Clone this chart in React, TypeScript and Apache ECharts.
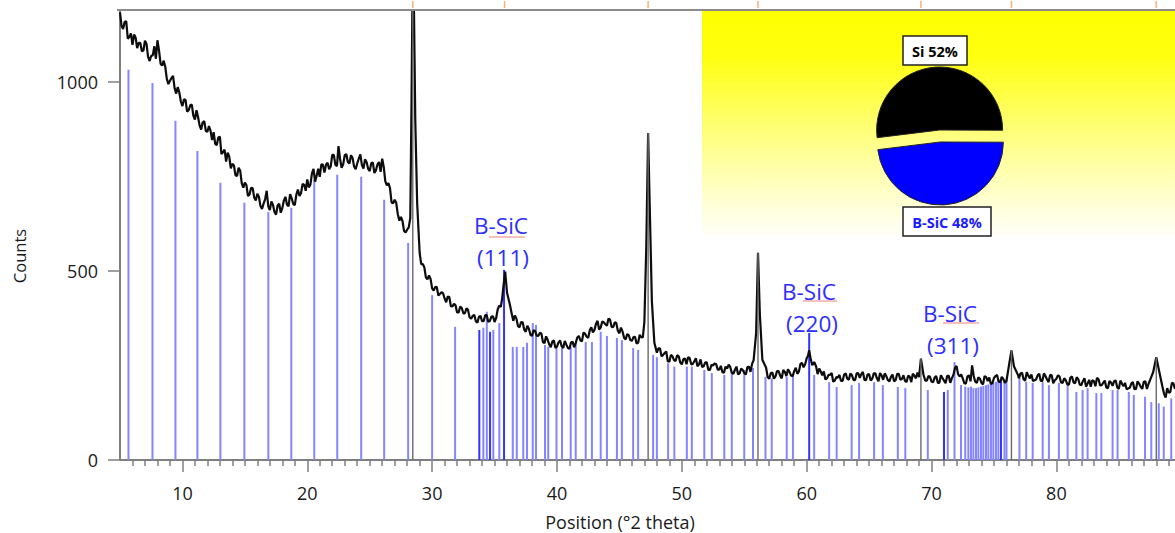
import { useEffect, useRef } from "react";
import * as echarts from "echarts";

// ---- measured diffraction scan: [position (°2θ), counts] ----
const scan5to29 = [
  [5.0, 1184], [5.125, 1148], [5.25, 1140], [5.375, 1159], [5.5, 1160], [5.625, 1114], [5.75, 1119], [5.875, 1128], [6.0, 1098], [6.125, 1125],
  [6.25, 1117], [6.375, 1089], [6.5, 1103], [6.625, 1103], [6.75, 1081], [6.875, 1083], [7.0, 1109], [7.125, 1100], [7.25, 1066], [7.375, 1055],
  [7.5, 1069], [7.625, 1070], [7.75, 1094], [7.875, 1061], [8.0, 1110], [8.125, 1083], [8.25, 1048], [8.375, 1043], [8.5, 1056], [8.625, 1040],
  [8.75, 1008], [8.875, 994], [9.0, 1003], [9.125, 1010], [9.25, 1016], [9.375, 983], [9.5, 969], [9.625, 986], [9.75, 972], [9.875, 948],
  [10.0, 936], [10.125, 954], [10.25, 952], [10.375, 921], [10.5, 925], [10.625, 938], [10.75, 940], [10.875, 911], [11.0, 900], [11.125, 925],
  [11.25, 907], [11.375, 885], [11.5, 874], [11.625, 893], [11.75, 896], [11.875, 870], [12.0, 868], [12.125, 883], [12.25, 871], [12.375, 846],
  [12.5, 867], [12.625, 836], [12.75, 833], [12.875, 853], [13.0, 855], [13.125, 809], [13.25, 814], [13.375, 821], [13.5, 789], [13.625, 813],
  [13.75, 802], [13.875, 771], [14.0, 783], [14.125, 779], [14.25, 753], [14.375, 751], [14.5, 773], [14.625, 765], [14.75, 732], [14.875, 720],
  [15.0, 734], [15.125, 727], [15.25, 698], [15.375, 702], [15.5, 720], [15.625, 719], [15.75, 694], [15.875, 686], [16.0, 704], [16.125, 696],
  [16.25, 672], [16.375, 664], [16.5, 678], [16.625, 690], [16.75, 712], [16.875, 671], [17.0, 661], [17.125, 684], [17.25, 675], [17.375, 656],
  [17.5, 649], [17.625, 673], [17.75, 678], [17.875, 654], [18.0, 666], [18.125, 686], [18.25, 696], [18.375, 675], [18.5, 671], [18.625, 703],
  [18.75, 692], [18.875, 677], [19.0, 674], [19.125, 702], [19.25, 715], [19.375, 698], [19.5, 706], [19.625, 730], [19.75, 728], [19.875, 712],
  [20.0, 742], [20.125, 721], [20.25, 728], [20.375, 758], [20.5, 770], [20.625, 736], [20.75, 752], [20.875, 770], [21.0, 749], [21.125, 782],
  [21.25, 781], [21.375, 760], [21.5, 781], [21.625, 786], [21.75, 769], [21.875, 776], [22.0, 807], [22.125, 807], [22.25, 781], [22.375, 777],
  [22.5, 830], [22.625, 796], [22.75, 773], [22.875, 782], [23.0, 806], [23.125, 809], [23.25, 788], [23.375, 784], [23.5, 806], [23.625, 799],
  [23.75, 776], [23.875, 769], [24.0, 784], [24.125, 797], [24.25, 808], [24.375, 780], [24.5, 771], [24.625, 795], [24.75, 788], [24.875, 770],
  [25.0, 764], [25.125, 785], [25.25, 787], [25.375, 759], [25.5, 766], [25.625, 782], [25.75, 788], [25.875, 762], [26.0, 797], [26.125, 775],
  [26.25, 737], [26.375, 726], [26.5, 732], [26.625, 719], [26.75, 681], [26.875, 679], [27.0, 688], [27.125, 680], [27.25, 650], [27.375, 633],
  [27.5, 643], [27.625, 632], [27.75, 606], [27.875, 602], [28.0, 609], [28.125, 615], [28.25, 640], [28.35, 950], [28.45, 1320], [28.55, 1180],
  [28.65, 900], [28.8, 680], [29.0, 548],
];
const scan29to48 = [
  [29.125, 518], [29.25, 518], [29.375, 510], [29.5, 483], [29.625, 478], [29.75, 488], [29.875, 479], [30.0, 454], [30.125, 448], [30.25, 458],
  [30.375, 457], [30.5, 435], [30.625, 439], [30.75, 444], [30.875, 441], [31.0, 427], [31.125, 417], [31.25, 432], [31.375, 431], [31.5, 407],
  [31.625, 406], [31.75, 413], [31.875, 409], [32.0, 390], [32.125, 390], [32.25, 406], [32.375, 402], [32.5, 388], [32.625, 388], [32.75, 401],
  [32.875, 397], [33.0, 377], [33.125, 374], [33.25, 381], [33.375, 384], [33.5, 367], [33.625, 363], [33.75, 379], [33.875, 381], [34.0, 367],
  [34.125, 367], [34.25, 383], [34.375, 383], [34.5, 365], [34.625, 368], [34.75, 379], [34.875, 380], [35.0, 365], [35.125, 375], [35.25, 398],
  [35.375, 408], [35.5, 405], [35.6, 425], [35.7, 456], [35.85, 498], [36.0, 442], [36.125, 425], [36.25, 407], [36.375, 387], [36.5, 368],
  [36.625, 382], [36.75, 374], [36.875, 354], [37.0, 351], [37.125, 365], [37.25, 364], [37.375, 345], [37.5, 339], [37.625, 355], [37.75, 347],
  [37.875, 331], [38.0, 328], [38.125, 343], [38.25, 341], [38.375, 329], [38.5, 328], [38.625, 336], [38.75, 335], [38.875, 312], [39.0, 309],
  [39.125, 327], [39.25, 318], [39.375, 306], [39.5, 298], [39.625, 313], [39.75, 316], [39.875, 296], [40.0, 300], [40.125, 311], [40.25, 316],
  [40.375, 301], [40.5, 296], [40.625, 315], [40.75, 305], [40.875, 296], [41.0, 294], [41.125, 311], [41.25, 313], [41.375, 298], [41.5, 309],
  [41.625, 324], [41.75, 328], [41.875, 316], [42.0, 314], [42.125, 337], [42.25, 334], [42.375, 326], [42.5, 323], [42.625, 343], [42.75, 351],
  [42.875, 337], [43.0, 344], [43.125, 360], [43.25, 368], [43.375, 345], [43.5, 350], [43.625, 366], [43.75, 364], [43.875, 359], [44.0, 355],
  [44.125, 374], [44.25, 371], [44.375, 352], [44.5, 351], [44.625, 364], [44.75, 362], [44.875, 342], [45.0, 335], [45.125, 350], [45.25, 340],
  [45.375, 323], [45.5, 319], [45.625, 333], [45.75, 330], [45.875, 317], [46.0, 315], [46.125, 325], [46.25, 326], [46.375, 308], [46.5, 310],
  [46.625, 331], [46.75, 325], [46.875, 324], [47.0, 365], [47.15, 560], [47.3, 865], [47.45, 640], [47.6, 420], [47.8, 310],
];
const scan48to70 = [
  [48.0, 284], [48.125, 295], [48.25, 295], [48.375, 274], [48.5, 278], [48.625, 283], [48.75, 287], [48.875, 261], [49.0, 260], [49.125, 278],
  [49.25, 274], [49.375, 264], [49.5, 262], [49.625, 277], [49.75, 274], [49.875, 258], [50.0, 253], [50.125, 267], [50.25, 268], [50.375, 253],
  [50.5, 272], [50.625, 270], [50.75, 253], [50.875, 254], [51.0, 261], [51.125, 269], [51.25, 248], [51.375, 253], [51.5, 266], [51.625, 246],
  [51.75, 248], [51.875, 258], [52.0, 258], [52.125, 238], [52.25, 238], [52.375, 252], [52.5, 250], [52.625, 255], [52.75, 254], [52.875, 239],
  [53.0, 239], [53.125, 249], [53.25, 232], [53.375, 231], [53.5, 247], [53.625, 242], [53.75, 252], [53.875, 246], [54.0, 231], [54.125, 228],
  [54.25, 238], [54.375, 247], [54.5, 227], [54.625, 229], [54.75, 242], [54.875, 238], [55.0, 230], [55.125, 226], [55.25, 245], [55.375, 247],
  [55.5, 233], [55.625, 254], [55.75, 264], [55.95, 335], [56.1, 548], [56.25, 385], [56.45, 265], [56.75, 244], [56.875, 219], [57.0, 215],
  [57.125, 230], [57.25, 231], [57.375, 215], [57.5, 221], [57.625, 235], [57.75, 235], [57.875, 223], [58.0, 216], [58.125, 238], [58.25, 233],
  [58.375, 222], [58.5, 240], [58.625, 233], [58.75, 223], [58.875, 222], [59.0, 235], [59.125, 244], [59.25, 228], [59.375, 234], [59.5, 254],
  [59.625, 257], [59.75, 245], [59.875, 253], [60.0, 269], [60.1, 275], [60.2, 290], [60.325, 266], [60.45, 251], [60.6, 259], [60.75, 248],
  [60.875, 227], [61.0, 242], [61.125, 234], [61.25, 224], [61.375, 234], [61.5, 213], [61.625, 216], [61.75, 225], [61.875, 225], [62.0, 230],
  [62.125, 207], [62.25, 210], [62.375, 219], [62.5, 218], [62.625, 225], [62.75, 209], [62.875, 209], [63.0, 226], [63.125, 229], [63.25, 215],
  [63.375, 212], [63.5, 229], [63.625, 224], [63.75, 212], [63.875, 211], [64.0, 229], [64.125, 230], [64.25, 217], [64.375, 227], [64.5, 233],
  [64.625, 212], [64.75, 211], [64.875, 226], [65.0, 227], [65.125, 210], [65.25, 215], [65.375, 229], [65.5, 229], [65.625, 216], [65.75, 208],
  [65.875, 230], [66.0, 224], [66.125, 212], [66.25, 229], [66.375, 222], [66.5, 211], [66.625, 208], [66.75, 220], [66.875, 226], [67.0, 208],
  [67.125, 211], [67.25, 228], [67.375, 228], [67.5, 212], [67.625, 214], [67.75, 224], [67.875, 209], [68.0, 206], [68.125, 223], [68.25, 221],
  [68.375, 206], [68.5, 228], [68.625, 223], [68.75, 216], [68.875, 231], [69.0, 219], [69.15, 268], [69.35, 226], [69.5, 210], [69.625, 210],
  [69.75, 222], [69.875, 220], [70.0, 207],
];
const scan70to90 = [
  [70.125, 206], [70.25, 218], [70.375, 222], [70.5, 204], [70.625, 204], [70.75, 224], [70.875, 217], [71.0, 210], [71.125, 203], [71.25, 222],
  [71.375, 223], [71.5, 204], [71.625, 216], [71.75, 225], [71.875, 243], [72.0, 249], [72.125, 227], [72.25, 221], [72.375, 226], [72.5, 216],
  [72.625, 203], [72.75, 202], [72.875, 221], [73.0, 224], [73.125, 208], [73.25, 250], [73.375, 223], [73.5, 207], [73.625, 204], [73.75, 219],
  [73.875, 215], [74.0, 204], [74.125, 200], [74.25, 222], [74.375, 219], [74.5, 209], [74.625, 218], [74.75, 201], [74.875, 203], [75.0, 217],
  [75.125, 222], [75.25, 225], [75.375, 207], [75.5, 206], [75.625, 220], [75.75, 214], [75.875, 204], [76.0, 209], [76.2, 250], [76.4, 290],
  [76.6, 248], [76.85, 230], [76.925, 225], [77.0, 216], [77.125, 229], [77.25, 231], [77.375, 213], [77.5, 210], [77.625, 232], [77.75, 223],
  [77.875, 216], [78.0, 226], [78.125, 209], [78.25, 211], [78.375, 213], [78.5, 224], [78.625, 228], [78.75, 209], [78.875, 209], [79.0, 229],
  [79.125, 222], [79.25, 213], [79.375, 206], [79.5, 225], [79.625, 224], [79.75, 203], [79.875, 211], [80.0, 215], [80.125, 224], [80.25, 221],
  [80.375, 205], [80.5, 204], [80.625, 216], [80.75, 211], [80.875, 200], [81.0, 199], [81.125, 218], [81.25, 221], [81.375, 205], [81.5, 203],
  [81.625, 219], [81.75, 214], [81.875, 199], [82.0, 198], [82.125, 209], [82.25, 216], [82.375, 194], [82.5, 202], [82.625, 212], [82.75, 194],
  [82.875, 211], [83.0, 209], [83.125, 195], [83.25, 217], [83.375, 214], [83.5, 197], [83.625, 198], [83.75, 204], [83.875, 210], [84.0, 192],
  [84.125, 190], [84.25, 209], [84.375, 205], [84.5, 196], [84.625, 209], [84.75, 210], [84.875, 192], [85.0, 188], [85.125, 210], [85.25, 202],
  [85.375, 195], [85.5, 204], [85.625, 187], [85.75, 189], [85.875, 191], [86.0, 202], [86.125, 206], [86.25, 187], [86.375, 188], [86.5, 208],
  [86.625, 202], [86.75, 194], [86.875, 188], [87.0, 207], [87.125, 208], [87.25, 188], [87.375, 201], [87.5, 211], [87.75, 232], [88.0, 272],
  [88.25, 232], [88.5, 193], [88.625, 175], [88.75, 165], [88.875, 190], [89.0, 178], [89.125, 180], [89.25, 204], [89.375, 202], [89.5, 188],
];

// ---- reference pattern sticks: [position, relative height in counts] ----
const refSticksLight = [
  [5.68, 1032], [7.6, 997], [9.44, 897], [11.2, 817], [13.04, 733], [14.96, 680], [16.88, 656], [18.72, 667], [20.56, 741], [22.4, 754],
  [24.32, 749], [26.16, 688], [28.08, 574], [30.0, 436], [31.84, 352], [34.1, 350], [34.38, 392], [34.9, 344], [35.38, 362], [36.46, 299],
  [36.78, 299], [37.3, 299], [37.6, 310], [38.06, 362], [38.32, 357], [39.04, 304], [39.3, 300], [39.96, 300], [40.4, 296], [41.1, 299],
  [41.5, 309], [42.3, 312], [42.8, 312], [43.5, 339], [44.0, 328], [44.8, 323], [45.2, 317], [46.1, 296], [46.5, 291], [47.7, 278],
  [48.0, 272], [48.9, 256], [49.4, 247], [50.4, 247], [50.8, 247], [51.8, 238], [52.4, 230], [53.4, 225], [54.0, 233], [55.0, 238],
  [55.7, 243], [56.7, 220], [57.2, 216], [58.4, 220], [58.9, 225], [60.6, 225], [61.8, 206], [62.4, 193], [63.6, 198], [64.2, 204],
  [65.4, 206], [66.1, 198], [67.3, 193], [67.9, 190], [69.7, 185], [71.3, 185], [71.84, 259], [72.36, 198], [72.7, 194], [72.95, 192],
  [73.16, 194], [73.35, 190], [73.56, 190], [73.75, 192], [73.96, 194], [74.15, 196], [74.36, 198], [74.55, 200], [74.76, 203], [74.95, 205],
  [75.16, 207], [75.35, 209], [75.84, 212], [76.0, 214], [77.04, 216], [77.58, 207], [78.1, 204], [78.9, 206], [79.4, 198], [80.2, 204],
  [80.9, 198], [81.6, 180], [82.1, 185], [82.5, 190], [83.2, 177], [83.6, 177], [84.5, 185], [84.9, 185], [85.8, 180], [86.2, 172],
  [87.1, 167], [87.6, 153], [88.2, 150], [88.6, 141], [89.2, 163],
];
const refSticksDark = [
  [33.78, 344], [34.64, 339], [35.76, 503], [60.2, 336], [71.0, 180], [75.56, 212],
];
const siSticks = [
  [28.45, 1320], [47.3, 865], [56.1, 548], [69.15, 268], [76.4, 290], [88.0, 272],
];
const peakMarkers = [28.45, 35.8, 47.3, 56.1, 69.15, 76.4, 88.0];

// ---- axes ----
const xMajorTicks = [10, 20, 30, 40, 50, 60, 70, 80];
const yTicks = [0, 500, 1000];
const xMin = 5;
const xMax = 89.5;
const yMax = 1190;

// ---- phase composition ----
const phaseNames = ["Si", "B-SiC"];
const phaseShares = [52, 48];
const annotations = [
  { label: "B-SiC", hkl: "(111)" },
  { label: "B-SiC", hkl: "(220)" },
  { label: "B-SiC", hkl: "(311)" },
];

const FONT = '"Open Sans", "Liberation Sans", sans-serif';
const BLUE_TXT = "#2e2eff";

function stickSeries(data: number[][], color: string, width: number, z: number) {
  return {
    type: "custom",
    data,
    z,
    clip: true,
    silent: true,
    encode: { x: 0, y: 1 },
    renderItem: (_p: any, api: any) => {
      const a = api.coord([api.value(0), 0]);
      const b = api.coord([api.value(0), api.value(1)]);
      return {
        type: "line",
        shape: { x1: a[0], y1: a[1], x2: b[0], y2: b[1] },
        style: { stroke: color, lineWidth: width },
      };
    },
  };
}

export default function App() {
  const ref = useRef<HTMLDivElement>(null);
  useEffect(() => {
    const chart = echarts.init(ref.current!, null, { renderer: "svg" });
    const minorTicks: number[] = [];
    for (let v = 6; v <= 89; v++) if (!xMajorTicks.includes(v)) minorTicks.push(v);
    const trace = [...scan5to29, ...scan29to48, ...scan48to70, ...scan70to90];

    const annPos = [
      { x: 501, y1: 225, x2: 503, y2: 257, ul: [489, 525, 237] },
      { x: 809, y1: 291, x2: 812, y2: 323, ul: [803, 837, 301] },
      { x: 950, y1: 313, x2: 953, y2: 345, ul: [943, 979, 323] },
    ];
    const annGraphics: any[] = [];
    annotations.forEach((a, i) => {
      const p = annPos[i];
      annGraphics.push(
        { type: "text", z: 20, style: { text: a.label, x: p.x, y: p.y1, align: "center", verticalAlign: "middle", font: `22.5px ${FONT}`, fill: BLUE_TXT } },
        { type: "text", z: 20, style: { text: a.hkl, x: p.x2, y: p.y2, align: "center", verticalAlign: "middle", font: `22.5px ${FONT}`, fill: BLUE_TXT } },
        { type: "line", z: 20, shape: { x1: p.ul[0], y1: p.ul[2], x2: p.ul[1], y2: p.ul[2] }, style: { stroke: "#e88080", lineWidth: 1 } }
      );
    });

    chart.setOption({
      animation: false,
      textStyle: { fontFamily: FONT },
      grid: { left: 120, right: 0, top: 10, bottom: 73, containLabel: false },
      xAxis: [
        {
          type: "value",
          min: xMin,
          max: xMax,
          splitLine: { show: false },
          axisLine: { show: true, lineStyle: { color: "#7f7f7f", width: 2 } },
          axisTick: { show: true, customValues: xMajorTicks, length: 12, lineStyle: { color: "#7f7f7f", width: 1.5 } },
          axisLabel: { customValues: xMajorTicks, margin: 24, fontSize: 18, color: "#1a1a1a", fontFamily: FONT },
        },
        {
          type: "value",
          min: xMin,
          max: xMax,
          position: "bottom",
          splitLine: { show: false },
          axisLine: { show: false },
          axisTick: { show: true, customValues: minorTicks, length: 6, lineStyle: { color: "#7f7f7f", width: 1.5 } },
          axisLabel: { show: false },
        },
      ],
      yAxis: {
        type: "value",
        min: 0,
        max: yMax,
        splitLine: { show: false },
        axisLine: { show: true, lineStyle: { color: "#7f7f7f", width: 2 } },
        axisTick: { show: true, customValues: yTicks, length: 12, lineStyle: { color: "#7f7f7f", width: 1.5 } },
        axisLabel: { customValues: yTicks, margin: 22, fontSize: 18, color: "#1a1a1a", fontFamily: FONT, formatter: (v: number) => String(v) },
      },
      series: [
        stickSeries(refSticksLight, "#8585ff", 2, 1),
        stickSeries(refSticksDark, "#3333ff", 2, 1),
        {
          type: "line",
          data: trace,
          z: 3,
          showSymbol: false,
          symbol: "none",
          silent: true,
          clip: true,
          lineStyle: { color: "#0d0d0d", width: 2.2 },
        },
        stickSeries(siSticks, "#6a6a6a", 1.4, 4),
        {
          type: "custom",
          data: peakMarkers.map((p) => [p, yMax]),
          z: 4,
          clip: false,
          silent: true,
          encode: { x: 0, y: 1 },
          renderItem: (_p: any, api: any) => {
            const a = api.coord([api.value(0), api.value(1)]);
            return { type: "line", shape: { x1: a[0], y1: a[1] - 9, x2: a[0], y2: a[1] - 2 }, style: { stroke: "#f5b27a", lineWidth: 1.5 } };
          },
        },
        {
          type: "pie",
          z: 6,
          center: [940, 136],
          radius: 63,
          startAngle: 187,
          clockwise: true,
          selectedMode: "multiple",
          selectedOffset: 6,
          silent: true,
          label: { show: false },
          labelLine: { show: false },
          emphasis: { disabled: true },
          data: phaseNames.map((n, i) => ({
            name: n,
            value: phaseShares[i],
            selected: true,
            itemStyle: { color: i === 0 ? "#000000" : "#0000ff", borderColor: "#222", borderWidth: 1 },
          })),
        },
      ],
      graphic: [
        { type: "line", z: 5, shape: { x1: 117, y1: 10, x2: 1175, y2: 10 }, style: { stroke: "#8c8c8c", lineWidth: 2 } },
        {
          type: "rect",
          z: 0,
          shape: { x: 702, y: 11, width: 473, height: 226 },
          style: {
            fill: new echarts.graphic.LinearGradient(0, 0, 0, 1, [
              { offset: 0, color: "#ffff00" },
              { offset: 0.2, color: "#ffff10" },
              { offset: 0.5, color: "#ffff70" },
              { offset: 0.8, color: "#ffffc8" },
              { offset: 1, color: "#fffffa" },
            ]),
          },
        },
        { type: "rect", z: 10, shape: { x: 903, y: 36, width: 64, height: 29 }, style: { fill: "#fff", stroke: "#222", lineWidth: 1.5 } },
        { type: "text", z: 11, style: { text: `${phaseNames[0]} ${phaseShares[0]}%`, x: 935, y: 51, align: "center", verticalAlign: "middle", font: `bold 14.5px ${FONT}`, fill: "#000" } },
        { type: "rect", z: 10, shape: { x: 903, y: 207, width: 88, height: 29 }, style: { fill: "#fff", stroke: "#222", lineWidth: 1.5 } },
        { type: "text", z: 11, style: { text: `${phaseNames[1]} ${phaseShares[1]}%`, x: 947, y: 222, align: "center", verticalAlign: "middle", font: `bold 14.5px ${FONT}`, fill: "#1a1aff" } },
        { type: "text", z: 11, style: { text: "Position (°2 theta)", x: 620, y: 522, align: "center", verticalAlign: "middle", font: `18px ${FONT}`, fill: "#1a1a1a" } },
        { type: "text", z: 11, rotation: Math.PI / 2, x: 19, y: 256, style: { text: "Counts", x: 0, y: 0, align: "center", verticalAlign: "middle", font: `16.5px ${FONT}`, fill: "#1a1a1a" } },
        ...annGraphics,
      ],
    });
    return () => chart.dispose();
  }, []);
  return (
    <div
      ref={ref}
      style={{ position: "fixed", left: 0, top: 0, width: 1175, height: 533, background: "#ffffff" }}
    />
  );
}
